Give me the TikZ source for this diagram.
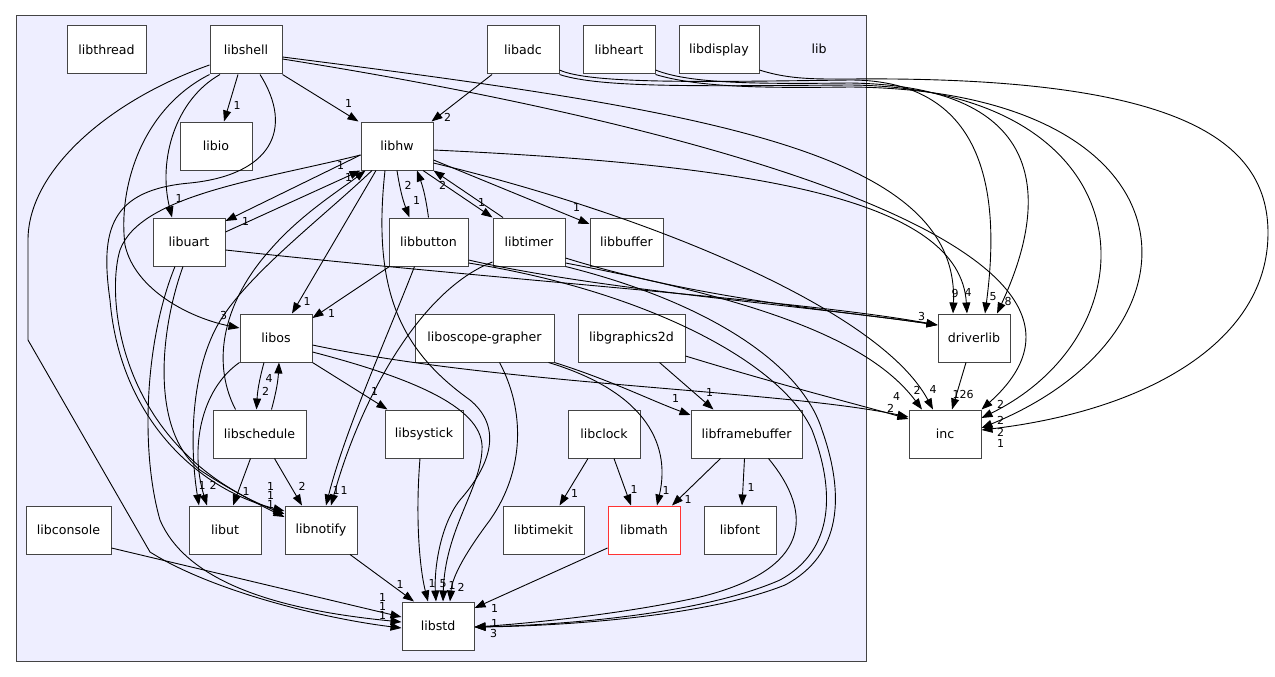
\documentclass[tikz,border=0pt]{standalone}
\usepackage{fontspec}
\setmainfont{DejaVu Sans}
\usetikzlibrary{arrows.meta}

\definecolor{dirfill}{RGB}{238,238,255}
\definecolor{dirline}{RGB}{68,68,68}
\definecolor{mathred}{RGB}{255,51,51}
\newcommand{\dirfont}{\fontsize{12.6}{15}\selectfont}
\newcommand{\numfont}{\fontsize{11}{13}\selectfont}

\begin{document}
\begin{tikzpicture}[x=1pt, y=-1pt,
  dir/.style={draw=dirline, line width=1pt, fill=white, minimum height=48pt, inner sep=0pt, font=\dirfont},
  dep/.style={->, line width=0.9pt},
  num/.style={font=\numfont, inner sep=0pt},
  >={Triangle[length=11pt,width=8pt]}]
\useasboundingbox (0,0) rectangle (1275,677);

% the lib folder
\draw[draw=dirline, line width=1pt, fill=dirfill] (16,16) rectangle (866,661);
\node[font=\dirfont] (liblabel) at (819,49) {lib};

\node[dir, minimum width=79] (libthread) at (106.5,50) {libthread};
\node[dir, minimum width=72] (libshell) at (246,50) {libshell};
\node[dir, minimum width=72] (libadc) at (523,50) {libadc};
\node[dir, minimum width=72] (libheart) at (619,50) {libheart};
\node[dir, minimum width=80] (libdisplay) at (719,50) {libdisplay};
\node[dir, minimum width=72] (libio) at (216,146) {libio};
\node[dir, minimum width=72] (libhw) at (397,146) {libhw};
\node[dir, minimum width=72] (libuart) at (189,242) {libuart};
\node[dir, minimum width=79] (libbutton) at (428.5,242) {libbutton};
\node[dir, minimum width=72] (libtimer) at (529,242) {libtimer};
\node[dir, minimum width=73] (libbuffer) at (626.5,242) {libbuffer};
\node[dir, minimum width=72] (libos) at (276,338) {libos};
\node[dir, minimum width=139] (liboscope) at (484.5,338) {liboscope-grapher};
\node[dir, minimum width=107] (libgraphics) at (631.5,338) {libgraphics2d};
\node[dir, minimum width=93] (libschedule) at (259.5,434) {libschedule};
\node[dir, minimum width=78] (libsystick) at (424,434) {libsystick};
\node[dir, minimum width=72] (libclock) at (604,434) {libclock};
\node[dir, minimum width=111] (libframebuffer) at (746.5,434) {libframebuffer};
\node[dir, minimum width=85] (libconsole) at (68.5,530) {libconsole};
\node[dir, minimum width=72] (libut) at (225,530) {libut};
\node[dir, minimum width=72] (libnotify) at (321,530) {libnotify};
\node[dir, minimum width=81] (libtimekit) at (543.5,530) {libtimekit};
\node[dir, minimum width=72, draw=mathred] (libmath) at (644,530) {libmath};
\node[dir, minimum width=72] (libfont) at (740,530) {libfont};
\node[dir, minimum width=72] (libstd) at (438,626) {libstd};
% outside the folder
\node[dir, minimum width=72] (driverlib) at (974,338) {driverlib};
\node[dir, minimum width=72] (inc) at (945,434) {inc};

% short dependencies
\path
([xshift=-8]libshell.south) edge[dep] node[num, pos=1, xshift=13, yshift=16]{1} ([xshift=8]libio.north)
(libshell.south east) edge[dep] node[num, pos=1, xshift=-10, yshift=18]{1} ([xshift=-2]libhw.north west)
([xshift=-31]libadc.south) edge[dep] node[num, pos=1, xshift=16, yshift=4]{2} ([xshift=-2]libhw.north east)
([yshift=-9]libhw.west) edge[dep] node[num, pos=1, xshift=20, yshift=0]{1} ([yshift=21]libuart.east)
([yshift=10]libuart.east) edge[dep] node[num, pos=1, xshift=-20, yshift=5]{1} (libhw.south west)
(libhw.south) edge[dep, bend right=6] node[num, pos=1, xshift=7, yshift=17]{1} ([xshift=-19]libbutton.north)
(libbutton.north) edge[dep, bend right=6] node[num, pos=1, xshift=-9, yshift=-15]{2} ([xshift=20]libhw.south)
([xshift=26]libhw.south) edge[dep] node[num, pos=1, xshift=-11, yshift=15]{1} (libtimer.north west)
([xshift=-26]libtimer.north) edge[dep] node[num, pos=1, xshift=9, yshift=-15]{2} (libhw.south east)
([yshift=-14]libhw.east) edge[dep] node[num, pos=1, xshift=-13, yshift=17]{1} ([yshift=18]libbuffer.west)
([xshift=-21]libhw.south) edge[dep] node[num, pos=1, xshift=15, yshift=12]{1} ([xshift=16]libos.north)
([xshift=1]libbutton.south west) edge[dep] node[num, pos=1, xshift=19, yshift=5]{1} ([yshift=20]libos.east)
([xshift=-12]libos.south) edge[dep, bend right=6] node[num, pos=1, xshift=9, yshift=18]{2} ([xshift=-3]libschedule.north)
([xshift=12]libschedule.north) edge[dep, bend right=6] node[num, pos=1, xshift=-10, yshift=-16]{4} ([xshift=3]libos.south)
(libos.south east) edge[dep] node[num, pos=1, xshift=-13, yshift=18]{1} ([xshift=3]libsystick.north west)
([xshift=-9]libschedule.south) edge[dep] node[num, pos=1, xshift=13, yshift=14]{1} ([xshift=8]libut.north)
([xshift=15]libschedule.south) edge[dep] node[num, pos=1, xshift=0, yshift=19]{2} ([xshift=-19]libnotify.north)
([xshift=29]libnotify.south) edge[dep] node[num, pos=1, xshift=-14, yshift=17]{1} ([xshift=-24]libstd.north)
([yshift=-18]libmath.west) edge[dep] node[num, pos=1, xshift=20, yshift=0]{1} ([yshift=18]libstd.east)
([yshift=-18]libconsole.east) edge[dep] node[num, pos=1, xshift=-19, yshift=20]{1} ([yshift=9]libstd.west)
([xshift=-16]libclock.south) edge[dep] node[num, pos=1, xshift=15, yshift=12]{1} ([xshift=16]libtimekit.north)
([xshift=10]libclock.south) edge[dep] node[num, pos=1, xshift=3, yshift=16]{1} ([xshift=-13]libmath.north)
([xshift=-26]libframebuffer.south) edge[dep] node[num, pos=1, xshift=16, yshift=6]{1} ([xshift=28]libmath.north)
([xshift=-2]libframebuffer.south) edge[dep] node[num, pos=1, xshift=9, yshift=18]{1} ([xshift=2]libfont.north)
([xshift=28]libgraphics.south) edge[dep] node[num, pos=1, xshift=-4, yshift=17]{1} ([xshift=-33]libframebuffer.north)
([xshift=-8]driverlib.south) edge[dep] node[num, pos=1, xshift=11, yshift=15]{126} ([xshift=7]inc.north)
;

% long dependencies inside the folder
\draw[dep] ([xshift=-26]libshell.south) .. controls (175,100) and (158,160) .. ([xshift=-17]libuart.north)
  node[num, pos=1, xshift=7, yshift=19]{1};
\draw[dep] (libshell.south west) .. controls (140,110) and (118,190) .. (125,245)
  .. controls (135,290) and (190,318) .. ([yshift=10]libos.west) node[num, pos=1, xshift=-16, yshift=13]{3};
\draw[dep] ([yshift=-15]libshell.west) .. controls (110,100) and (28,170) .. (28,240) -- (28,340) -- (150,552)
  .. controls (210,590) and (320,618) .. ([yshift=-2]libstd.west) node[num, pos=1, xshift=-19, yshift=13]{1};
\draw[dep] ([xshift=14]libshell.south) .. controls (295,130) and (270,175) .. (190,183)
  .. controls (110,190) and (100,230) .. (110,300)
  .. controls (120,420) and (200,490) .. ([yshift=19]libnotify.west) node[num, pos=1, xshift=-14, yshift=25]{1};
\draw[dep] ([yshift=-9]libhw.west) .. controls (260,180) and (140,195) .. (120,250)
  .. controls (105,300) and (120,450) .. ([yshift=16]libnotify.west) node[num, pos=1, xshift=-14, yshift=19]{1};
\draw[dep] ([xshift=-6]libuart.south) .. controls (160,330) and (150,430) .. (200,470)
  .. controls (230,490) and (260,505) .. ([yshift=13]libnotify.west) node[num, pos=1, xshift=-14, yshift=13]{1};
\draw[dep] ([xshift=-14]libuart.south) .. controls (145,340) and (140,450) .. (160,520)
  .. controls (190,590) and (300,612) .. ([yshift=4]libstd.west) node[num, pos=1, xshift=-19, yshift=16]{1};
\draw[dep] ([xshift=-25]libhw.south) .. controls (320,220) and (240,280) .. (215,330)
  .. controls (190,380) and (190,450) .. ([xshift=-26]libut.north) node[num, pos=1, xshift=3, yshift=20]{1};
\draw[dep] (libos.south west) .. controls (200,390) and (190,450) .. ([xshift=-18]libut.north)
  node[num, pos=1, xshift=6, yshift=20]{2};
\draw[dep] ([xshift=-24]libschedule.north) .. controls (210,360) and (225,300) .. (270,250)
  .. controls (300,215) and (340,190) .. ([xshift=5]libhw.south west) node[num, pos=1, xshift=-17, yshift=-7]{1};
\draw[dep] ([xshift=-12]libhw.south) .. controls (372,290) and (400,350) .. (470,400)
  .. controls (500,425) and (495,460) .. (460,500)
  .. controls (440,525) and (434,570) .. ([xshift=-2]libstd.north) node[num, pos=1, xshift=7, yshift=18]{5};
\draw[dep] ([yshift=-14]libos.east) .. controls (420,380) and (485,410) .. (482,450)
  .. controls (480,490) and (445,530) .. ([xshift=5]libstd.north) node[num, pos=1, xshift=9, yshift=16]{1};
\draw[dep] ([xshift=-4]libsystick.south) .. controls (415,520) and (420,570) .. ([xshift=-10]libstd.north)
  node[num, pos=1, xshift=4, yshift=18]{1};
\draw[dep] ([xshift=15]liboscope.south) .. controls (525,410) and (525,470) .. (490,520)
  .. controls (460,560) and (452,580) .. ([xshift=12]libstd.north) node[num, pos=1, xshift=11, yshift=14]{2};
\draw[dep] (liboscope.south east) .. controls (610,380) and (650,400) .. ([yshift=19]libframebuffer.west)
  node[num, pos=1, xshift=-15, yshift=17]{1};
\draw[dep] ([xshift=-6]liboscope.south east) .. controls (640,390) and (672,440) .. ([xshift=13]libmath.north)
  node[num, pos=1, xshift=9, yshift=15]{1};
\draw[dep] ([xshift=-14]libbutton.south) .. controls (390,330) and (345,430) .. ([xshift=5]libnotify.north)
  node[num, pos=1, xshift=10, yshift=15]{1};
\draw[dep] ([yshift=-20]libtimer.west) .. controls (420,290) and (360,400) .. ([xshift=10]libnotify.north)
  node[num, pos=1, xshift=13, yshift=15]{1};
\draw[dep] ([xshift=22]libframebuffer.south) .. controls (815,515) and (810,570) .. (700,597)
  .. controls (620,615) and (520,624) .. ([yshift=-1]libstd.east) node[num, pos=1, xshift=20, yshift=4]{1};
\draw[dep] ([yshift=-21]libbutton.east) .. controls (640,290) and (780,360) .. (812,430)
  .. controls (835,490) and (835,550) .. (780,580)
  .. controls (700,615) and (560,625) .. ([yshift=-1]libstd.east) node[num, pos=1, xshift=19, yshift=-6]{3};
\draw[dep] (libtimer.south east) .. controls (700,300) and (800,360) .. (822,430)
  .. controls (845,495) and (842,555) .. (785,585)
  .. controls (705,617) and (560,626) .. ([yshift=-1]libstd.east);

% dependencies leaving the folder
\draw[dep] ([yshift=-8]libuart.east) .. controls (500,280) and (800,300) .. ([yshift=13]driverlib.west)
  node[num, pos=1, xshift=-16, yshift=9]{3};
\draw[dep] ([yshift=-18]libbutton.east) .. controls (600,290) and (800,305) .. ([yshift=13]driverlib.west);
\draw[dep] ([yshift=-16]libtimer.east) .. controls (700,300) and (850,312) .. ([yshift=13]driverlib.west);
\draw[dep] ([yshift=-21]libtimer.east) .. controls (760,300) and (870,340) .. ([xshift=-23]inc.north)
  node[num, pos=1, xshift=-5, yshift=19]{2};
\draw[dep] ([yshift=-17]libhw.east) .. controls (650,215) and (880,310) .. ([xshift=-12]inc.north)
  node[num, pos=1, xshift=0, yshift=20]{4};
\draw[dep] ([yshift=-4]libhw.east) .. controls (760,165) and (960,200) .. ([xshift=-7]driverlib.north)
  node[num, pos=1, xshift=1, yshift=21]{4};
\draw[dep] ([yshift=-7]libshell.east) .. controls (700,110) and (960,150) .. ([xshift=-21]driverlib.north)
  node[num, pos=1, xshift=2, yshift=20]{9};
\draw[dep] ([yshift=-9]libshell.east) .. controls (700,125) and (1160,250) .. (inc.north east)
  node[num, pos=1, xshift=19, yshift=5]{2};
\draw[dep] ([yshift=-7]libos.east) .. controls (500,385) and (780,390) .. ([yshift=17]inc.west)
  node[num, pos=1, xshift=-12, yshift=21]{4};
\draw[dep] ([yshift=-18]libgraphics.east) .. controls (780,385) and (860,405) .. ([yshift=15]inc.west)
  node[num, pos=1, xshift=-18, yshift=11]{2};
\draw[dep] ([yshift=-20]libadc.east) .. controls (590,84) and (700,82) .. (850,80)
  .. controls (990,80) and (1000,200) .. ([xshift=11]driverlib.north) node[num, pos=1, xshift=8, yshift=17]{5};
\draw[dep] ([yshift=-20]libheart.east) .. controls (690,84) and (760,84) .. (850,83)
  .. controls (1050,86) and (1050,200) .. ([xshift=23]driverlib.north) node[num, pos=1, xshift=11, yshift=12]{8};
\draw[dep] (libadc.south east) .. controls (600,88) and (700,86) .. (850,85)
  .. controls (1150,88) and (1160,330) .. ([yshift=16]inc.east) node[num, pos=1, xshift=19, yshift=-2]{2};
\draw[dep] (libheart.south east) .. controls (700,88) and (770,88) .. (850,87)
  .. controls (1200,90) and (1220,330) .. ([yshift=6]inc.east) node[num, pos=1, xshift=19, yshift=-4]{2};
\draw[dep] ([yshift=-20]libdisplay.east) .. controls (790,80) and (820,79) .. (850,79)
  .. controls (1180,76) and (1268,140) .. (1268,233)
  .. controls (1268,340) and (1150,410) .. ([yshift=4]inc.east) node[num, pos=1, xshift=19, yshift=-13]{1};
\end{tikzpicture}
\end{document}
